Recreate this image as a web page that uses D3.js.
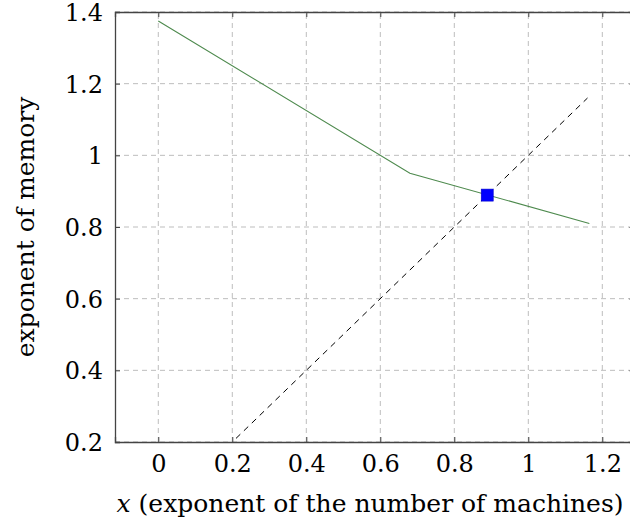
<!DOCTYPE html>
<html>
<head>
<meta charset="utf-8">
<script src="https://cdn.jsdelivr.net/npm/d3@7"></script>
<style>
  body { margin: 0; background: #fff; }
  text { font-family: "DejaVu Serif", "Liberation Serif", serif; fill: #000; }
</style>
</head>
<body>
<div id="chart"></div>
<script>
// Memory exponent curve
const curveX = [0, 0.68, 1.165];
const curveY = [1.375, 0.95, 0.81];

// Diagonal y = x
const diagX = [0.21, 1.16];

// Intersection point
const pointX = [0.889];
const pointY = [0.889];

const xTicks = [0, 0.2, 0.4, 0.6, 0.8, 1, 1.2];
const yTicks = [0.2, 0.4, 0.6, 0.8, 1, 1.2, 1.4];

const w = 630, h = 525;
const mLeft = 115, mRight = 634.5, mTop = 12, mBottom = 442;
const tickFont = '24px';
const titleFont = '25px';

const xScale = d3.scaleLinear().domain([-0.117, 1.287]).range([mLeft, mRight]);
const yScale = d3.scaleLinear().domain([0.2, 1.4]).range([mBottom, mTop]);

const svg = d3.select('#chart')
  .append('svg')
  .attr('width', w)
  .attr('height', h);

svg.append('clipPath').attr('id', 'clip')
  .append('rect')
  .attr('x', mLeft).attr('y', mTop)
  .attr('width', mRight - mLeft).attr('height', mBottom - mTop);

// Grid
const grid = svg.append('g').attr('stroke', '#bdbdbd').attr('stroke-width', 1).attr('stroke-dasharray', '5,4');
grid.selectAll('line.vx')
  .data(xTicks)
  .enter()
  .append('line')
  .attr('x1', d => xScale(d)).attr('x2', d => xScale(d))
  .attr('y1', mBottom).attr('y2', mTop);
grid.selectAll('line.hy')
  .data(yTicks)
  .enter()
  .append('line')
  .attr('y1', d => yScale(d)).attr('y2', d => yScale(d))
  .attr('x1', mLeft).attr('x2', mRight);

const plot = svg.append('g').attr('clip-path', 'url(#clip)');

// Diagonal dashed line
plot.append('path')
  .datum(diagX)
  .attr('d', d3.line().x(d => xScale(d)).y(d => yScale(d)))
  .attr('fill', 'none')
  .attr('stroke', '#000')
  .attr('stroke-width', 1)
  .attr('stroke-dasharray', '6,5');

// Green curve
plot.append('path')
  .datum(curveX.map((x, i) => [x, curveY[i]]))
  .attr('d', d3.line().x(d => xScale(d[0])).y(d => yScale(d[1])))
  .attr('fill', 'none')
  .attr('stroke', '#4e8a4e')
  .attr('stroke-width', 1.1);

// Square marker
plot.selectAll('rect.pt')
  .data(pointX)
  .enter()
  .append('rect')
  .attr('x', (d) => xScale(d) - 6)
  .attr('y', (d, i) => yScale(pointY[i]) - 6)
  .attr('width', 12)
  .attr('height', 12)
  .attr('fill', '#0000ff')
  .attr('stroke', '#0000cc')
  .attr('stroke-width', 0.6);

// Axes with inward ticks on all sides
const tickLen = 5;
const axisColor = '#444';
const xb = svg.append('g')
  .attr('transform', `translate(0, ${mBottom})`)
  .call(d3.axisBottom(xScale).tickValues(xTicks).tickSize(-tickLen).tickPadding(13).tickFormat(d3.format('')));
const xt = svg.append('g')
  .attr('transform', `translate(0, ${mTop})`)
  .call(d3.axisTop(xScale).tickValues(xTicks).tickSize(-tickLen).tickFormat(''));
const yl = svg.append('g')
  .attr('transform', `translate(${mLeft}, 0)`)
  .call(d3.axisLeft(yScale).tickValues(yTicks).tickSize(-tickLen).tickPadding(12).tickFormat(d3.format('')));
const yr = svg.append('g')
  .attr('transform', `translate(${mRight}, 0)`)
  .call(d3.axisRight(yScale).tickValues(yTicks).tickSize(-tickLen).tickFormat(''));

[xb, xt, yl, yr].forEach(g => {
  g.select('.domain').attr('stroke', axisColor).attr('stroke-width', 1.3);
  g.selectAll('.tick line').attr('stroke', axisColor).attr('stroke-width', 1);
  g.selectAll('.tick text').style('font-size', tickFont).style('font-family', '"DejaVu Serif", serif').attr('fill', '#000');
});
xb.selectAll('.tick text').attr('dy', '0.71em');
yl.selectAll('.tick text').attr('dy', '0.36em');

// Axis titles
const xTitle = svg.append('text')
  .attr('x', 370)
  .attr('y', 512)
  .attr('text-anchor', 'middle')
  .style('font-size', titleFont);
xTitle.append('tspan').style('font-style', 'italic').text('x');
xTitle.append('tspan').text(' (exponent of the number of machines)');

svg.append('text')
  .attr('transform', `translate(34, 227) rotate(-90)`)
  .attr('text-anchor', 'middle')
  .style('font-size', titleFont)
  .text('exponent of memory');
</script>
</body>
</html>
